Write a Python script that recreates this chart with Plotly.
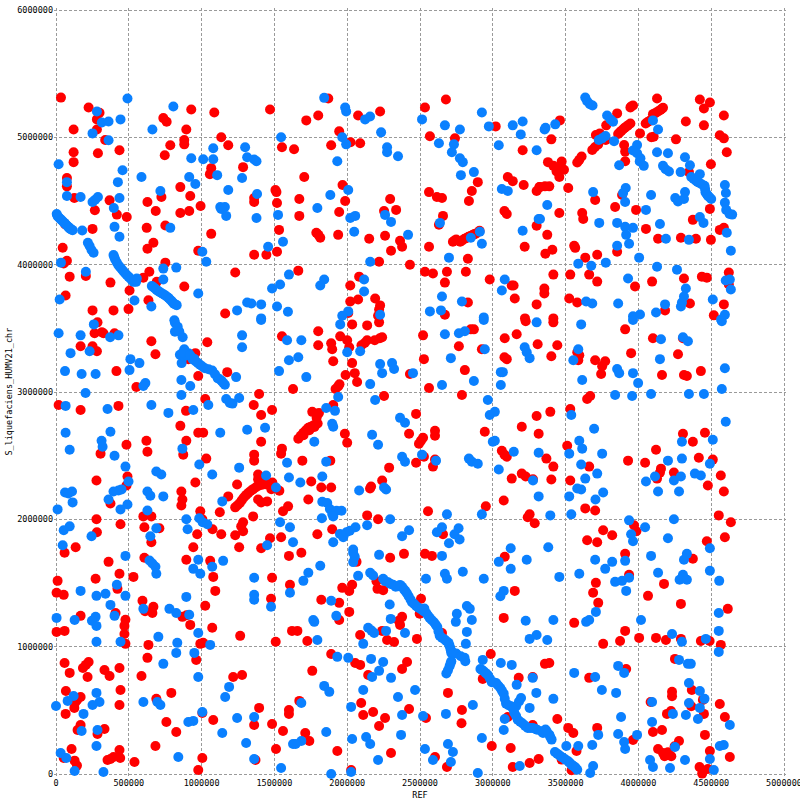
import plotly.graph_objects as go

# Values are (REF, S_liquefaciens_HUMV21_chr) positions in thousands of bases.
red_upper_left = [(34,5312),(224,5234),(299,5193),(281,5141),(121,5062),(281,5062),(338,4979),(121,4883),(288,4875),(436,4898),(121,4805),(75,4680),(75,4615),(126,4523),(267,4427),(368,4505),(418,4393),(486,4375),(64,4315),(251,4281),(46,4133),(75,4031),(53,4010),(94,3906),(205,3911),(374,3859),(66,3758),(251,3641),(395,3641),(498,3651),(505,3797),(635,3721),(641,3945),(600,3898),(692,3865),(881,3828),(751,4016),(628,4125),(669,4172),(977,4109),(623,4289),(751,4307),(1066,4242),(628,4492),(724,4531),(685,4422),(854,4609),(922,4539),(854,4406),(915,4422),(993,4461),(747,4859),(785,4938),(881,4979),(881,4945),(895,5062),(737,5151),(760,5122),(929,5219),(1087,5195),(1470,5219),(1135,5000),(1183,4938),(1552,4922),(1635,4906),(1066,4758),(1057,4711),(1285,4766),(1507,4586),(1514,4570),(1361,4523),(1361,4492),(1518,4484),(1532,4273),(1361,4078),(1445,4078),(1518,4102),(1231,3938),(1162,3617)]
red_upper_mid = [(1870,5305),(1719,5133),(1801,5172),(2075,5172),(2226,5203),(1945,5047),(1890,4938),(2023,4961),(2089,4953),(1705,4688),(1968,4625),(1671,4516),(1986,4500),(2295,4516),(1671,4383),(1945,4414),(2253,4422),(2336,4430),(1788,4250),(1815,4211),(1802,4235),(1938,4234),(2151,4203),(2260,4227),(2363,4188),(2377,4141),(2301,4109),(2219,4023),(2431,4000),(1664,3953),(2082,3906),(2021,3836),(2021,3711),(2075,3727),(2192,3734),(2226,3680),(2219,3648),(2212,3599),(2007,3620),(2534,5234),(2678,5297),(2568,5008),(2740,4992),(3020,5086),(3205,4898),(2562,4570),(2616,4531),(2651,4523),(2836,4500),(2856,4578),(2897,4648),(2658,4383),(2630,4313),(3103,4688),(3137,4656),(3212,4625),(3301,4578),(3320,4609),(3080,4422),(3096,4398),(3301,4305),(2562,4141),(2829,4047),(3219,4141),(2534,3945),(2589,3930),(2685,3945),(2815,3945),(2671,3859),(2979,3883),(3130,3836),(3143,3836),(3151,3734),(3301,3688),(2829,3703),(2671,3607),(3221,3578),(2726,4180),(2749,4198),(2776,4180),(2806,4203),(2833,4219),(2863,4234),(2886,4245),(2909,4266),(2737,4190),(2790,4190),(2820,4210),(2848,4226),(2875,4240)]
red_upper_right = [(4128,5305),(4422,5297),(4491,5273),(4450,5227),(4587,5172),(3854,5188),(3950,5242),(3461,5133),(4326,5125),(4450,5094),(4559,5016),(4587,4992),(4607,4883),(3402,4984),(4258,4984),(4011,5031),(3779,5094),(4498,4789),(4347,4727),(3518,4602),(3703,4508),(3888,4547),(3840,4453),(3984,4430),(3457,4406),(4491,4438),(4374,4352),(4052,4281),(3614,4406),(3621,4359),(3374,4234),(4559,4273),(4587,4289),(4135,4203),(4292,4211),(4395,4203),(4498,4195),(3559,4148),(3566,4132),(3409,4117),(3361,4086),(3635,4055),(3717,4078),(3854,4102),(3416,3922),(3532,3922),(3662,3922),(3717,3867),(3977,3828),(4094,3867),(4313,3891),(4436,3906),(4470,3898),(4621,3938),(4621,3844),(3354,3813),(3354,3773),(3525,3734),(3580,3703),(4354,3695),(4587,3688),(4183,3641),(4518,3602),(3416,3578),(3379,4805),(3416,4776),(3450,4758),(3473,4810),(3489,4745),(3457,4688),(3438,4732),(3610,4849),(3594,4823),(3580,4802),(3683,4901),(3701,4922),(3724,4945),(3708,5018),(3735,5031),(3776,4979),(3861,5026),(3884,5052),(3907,5076),(3929,5094),(3945,5109),(4050,5109),(4078,5130),(4100,5182),(4123,5195),(4151,5214),(4169,5232),(4089,5000),(4105,5005),(3902,4940),(3909,4888),(3909,4812),(3945,5234),(3963,5250),(3324,4609),(3358,4615),(3388,4615),(3872,5039),(3895,5064),(3918,5085),(4064,5120),(4112,5188),(4137,5205),(4160,5223)]
red_centre_left = [(285,3547),(265,3461),(315,3469),(326,3461),(402,3461),(169,3359),(251,3359),(281,3320),(655,3398),(1039,3391),(683,3297),(957,3305),(909,3258),(415,3164),(1176,3156),(977,3125),(1552,3437),(552,3039),(1395,2984),(1628,3023),(18,2898),(169,2859),(429,2891),(1025,2945),(893,2852),(1358,2898),(1409,2820),(1484,2859),(854,2734),(977,2680),(1011,2680),(895,2617),(621,2617),(1409,2609),(484,2586),(628,2531),(306,2516),(874,2508),(1552,2555),(1546,2516),(1032,2477),(1361,2508),(1361,2461),(491,2336),(484,2266),(278,2305),(957,2289),(1244,2273),(861,2219),(868,2156),(861,2109),(374,2125),(1183,2180),(1388,2156),(1409,2133),(1450,2141),(1594,2102),(1559,2063),(991,2063),(1125,2055),(600,2023),(655,2023),(278,2000),(1354,2023),(443,1961),(607,1938),(710,1930),(281,1898),(1005,2000),(1075,1922),(1135,1883),(970,1883),(1231,1875),(1285,1977),(1272,1945),(1285,1906),(1546,1859),(1470,1852),(655,1820),(135,1781),(943,1781),(1258,1781),(1409,1773),(1388,2352),(1231,2094),(1263,2128),(1290,2172),(1320,2206),(1354,2237),(1388,2263),(1422,2273),(1457,2276),(1486,2289),(1388,2315),(1479,2237),(1534,2224),(1247,2110),(1276,2150),(1305,2190),(1337,2222),(1371,2250),(1405,2270),(1440,2275),(1470,2282),(1400,2295),(1430,2290)]
red_centre_mid = [(1801,3477),(1952,3437),(2034,3531),(2137,3523),(2219,3547),(1801,3367),(1890,3383),(1897,3336),(1904,3242),(2000,3406),(2014,3352),(2034,3227),(2052,3148),(1989,3133),(2068,3078),(2098,3367),(2137,3406),(2189,3406),(2240,3430),(2224,3422),(2120,3385),(1938,3044),(1920,3023),(1947,3060),(1904,2898),(2253,2969),(1760,2844),(1806,2836),(1790,2797),(1664,2633),(1699,2680),(1733,2719),(1767,2737),(1797,2753),(1797,2823),(1984,2672),(2000,2602),(1692,2461),(1884,2461),(1753,2297),(1822,2250),(1890,2250),(1733,2156),(2164,2258),(2157,2242),(2240,2305),(2288,2406),(2137,2031),(2212,2000),(1897,1922),(1795,1883),(2425,2672),(2473,2828),(2521,2641),(2507,2618),(2493,2594),(2603,2695),(2603,2656),(2473,2445),(2527,2492),(2603,2469),(2589,2414),(2562,3031),(2788,2977),(2808,3172),(2527,3258),(2431,3141),(2521,3445),(2767,3359),(2925,3336),(2849,3492),(2870,3492),(3082,3422),(3164,3453),(3226,3555),(3308,3375),(3080,3273),(3096,3258),(2945,2688),(3199,2727),(3301,2812),(3315,2672),(3062,2539),(3080,2508),(3096,2492),(3130,2320),(3199,2359),(3226,2336),(3276,2315),(3075,2148),(2952,2102),(2555,2063),(3253,2039),(3240,2016),(3288,1969),(2658,1883),(1681,2656),(1716,2700),(1750,2728),(1782,2745),(1700,2660),(1740,2700),(1775,2725)]
red_centre_right = [(3416,3547),(3909,3492),(4100,3422),(4306,3422),(3443,3367),(3402,3281),(3580,3312),(3594,3289),(3587,3250),(3703,3250),(3772,3242),(3751,3203),(3744,3141),(3950,3305),(4272,3297),(4162,3133),(4313,3133),(4333,3125),(4429,3164),(3669,2969),(3648,2945),(3532,2867),(3395,2844),(3511,2578),(3368,2477),(3416,2414),(3662,2414),(3402,2313),(3532,2305),(3929,2461),(4046,2445),(4121,2547),(4306,2672),(4457,2680),(4374,2609),(4415,2484),(4511,2469),(4155,2398),(4148,2367),(4128,2320),(4244,2367),(4566,2344),(4477,2266),(4587,2219),(3635,2086),(3703,2070),(4552,2031),(4635,1977),(3970,1953),(3986,1906),(3758,1914),(3820,1875),(3648,1836),(3717,1820),(4470,1828),(4594,1859)]
red_lower_left = [(59,1737),(361,1666),(436,1572),(272,1533),(11,1517),(532,1548),(607,1698),(895,1682),(1059,1674),(1080,1548),(1600,1713),(1484,1541),(1607,1486),(422,1454),(4,1423),(53,1407),(1094,1438),(1477,1376),(594,1360),(669,1313),(662,1265),(612,1279),(1025,1321),(409,1265),(169,1242),(477,1211),(470,1163),(470,1100),(868,1234),(897,1247),(922,1171),(1073,1148),(4,1116),(59,1124),(1621,1124),(1265,1085),(1509,1038),(477,1022),(635,1014),(991,1022),(1011,1030),(628,912),(963,896),(59,872),(224,880),(205,857),(185,833),(94,794),(217,762),(436,833),(333,817),(368,770),(587,770),(1217,762),(1278,778),(443,660),(792,637),(68,652),(169,605),(144,579),(126,519),(131,560),(689,590),(436,542),(66,472),(1395,519),(1600,503),(1600,471),(1005,479),(1080,424),(758,409),(1361,385),(1484,393),(1559,338),(826,330),(169,385),(148,346),(285,314),(333,354),(683,220),(107,196),(436,189),(395,134),(354,110),(441,126),(374,118),(53,126),(128,105),(144,66),(539,94),(1005,126),(977,31),(1370,110),(1511,196)]
red_lower_mid = [(1685,1737),(2295,1698),(2390,1729),(2534,1729),(2582,1713),(2064,1666),(3082,1706),(1966,1462),(2034,1486),(2014,1438),(2201,1514),(2208,1454),(2247,1444),(1822,1368),(1945,1344),(2014,1273),(3151,1438),(2507,1376),(2498,1258),(3075,1226),(1945,1210),(2377,1234),(2354,1203),(2363,1171),(1658,1124),(1726,1045),(2089,1092),(2240,1124),(2274,1053),(2322,1037),(2479,1061),(2651,1108),(1890,943),(2986,943),(1760,810),(2055,872),(2089,857),(2411,880),(2377,825),(2144,778),(2931,747),(3178,755),(3274,762),(2692,637),(2096,558),(1671,574),(2425,511),(2110,464),(2178,487),(2260,440),(2541,440),(2788,503),(2219,377),(2785,398),(3103,448),(3274,385),(1712,322),(1740,259),(1932,181),(2301,165),(2993,220),(3123,204),(2603,134),(2685,55),(3137,55),(3253,86),(3315,118),(2027,31)]
red_lower_right = [(3909,1729),(4374,1690),(3936,1564),(3708,1501),(4176,1493),(3689,1423),(4066,1399),(3724,1344),(4292,1336),(4614,1297),(3559,1187),(3909,1124),(3874,1045),(3758,1022),(4005,1069),(4121,1069),(4189,1053),(4292,1061),(4429,1045),(4489,1045),(4566,1014),(3358,865),(3388,872),(4251,904),(3916,825),(3662,755),(4367,660),(4231,645),(4231,610),(4443,582),(4084,566),(4363,532),(4559,550),(4224,495),(4196,472),(4450,472),(4594,448),(3443,432),(3518,362),(3553,322),(3717,362),(4100,330),(4162,346),(4457,307),(3963,267),(4279,259),(4249,217),(3575,181),(4491,181),(4628,134),(4135,196),(4169,165),(4226,139),(4180,139),(4203,170),(3473,113),(3541,29),(4420,55),(4443,21),(4477,39),(4438,3)]

blue_upper_left = [(491,5305),(806,5242),(281,5203),(315,5117),(361,5125),(443,5141),(251,5031),(361,4977),(662,5062),(18,4789),(457,4742),(425,4648),(587,4688),(75,4648),(75,4539),(169,4531),(251,4492),(288,4531),(269,4510),(436,4523),(397,4445),(717,4578),(915,4688),(957,4633),(929,4836),(1011,4828),(1080,4828),(1080,4914),(1299,4922),(1313,4844),(1361,4826),(1377,4812),(1107,4703),(1278,4680),(1183,4586),(1381,4555),(1128,4453),(1160,4453),(1135,4438),(1169,4383),(1377,4367),(1525,4391),(1457,4141),(1559,4180),(1546,5000),(785,4289),(402,4297),(436,4219),(180,4268),(1005,4102),(1032,4023),(34,4016),(205,3945),(737,3969),(826,3977),(737,3883),(977,3773),(539,3719),(655,3672),(25,3727),(1484,3813),(1539,3844),(1600,3922),(1313,3703),(1342,3695),(1409,3688),(1518,3672),(1593,3630),(1244,3641),(1409,3578),(813,3563),(5,4398),(11,4380),(30,4359),(48,4339),(66,4318),(84,4297),(98,4281),(114,4271),(219,4172),(231,4146),(244,4115),(258,4094),(395,4076),(406,4042),(429,3995),(452,3964),(475,3932),(498,3906),(520,3880),(532,3865),(555,3891),(550,3865),(658,3833),(680,3813),(703,3792),(726,3776),(749,3760),(772,3740),(794,3714),(810,3693),(829,3682),(400,4060),(417,4018),(440,3980),(463,3948),(486,3919),(509,3893),(540,3875),(669,3823),(691,3802),(714,3784),(737,3768),(760,3750),(783,3727),(802,3703),(820,3688),(20,4370),(39,4349),(57,4328),(75,4307),(91,4289),(106,4276)]
blue_upper_mid = [(1842,5310),(1986,5234),(1993,5203),(2123,5141),(2157,5164),(2233,5039),(1966,5000),(1993,4945),(1932,4812),(2274,4922),(2274,4883),(2349,4852),(2007,4586),(1884,4547),(1795,4445),(2021,4367),(2055,4383),(2260,4391),(2301,4336),(2048,4258),(2418,4234),(2158,4023),(1842,3883),(1815,3836),(2116,3883),(2116,3789),(2007,3633),(1966,3599),(2226,3607),(2514,5141),(2671,5094),(2774,5062),(2925,5195),(2973,5086),(3137,5094),(3205,5125),(3192,5023),(3041,4938),(3301,4898),(2630,4953),(2733,4945),(2719,4883),(2774,4836),(2794,4805),(2870,4727),(2781,4703),(3062,4594),(3103,4578),(2637,4328),(3315,4359),(3205,4266),(2849,4211),(2911,4258),(2925,4164),(2699,4055),(3082,3883),(3062,3797),(2651,3750),(2788,3711),(2568,3633),(2644,3641),(2938,3586)]
blue_upper_right = [(3635,5312),(3648,5284),(3667,5260),(3685,5250),(3429,5102),(3356,5062),(3362,5075),(3785,5172),(3808,5141),(3826,5122),(4100,5133),(4135,5062),(3774,5010),(3728,4979),(3751,4992),(3833,4969),(3991,4940),(3963,4896),(3991,4875),(4014,4836),(4009,4810),(4037,4776),(3868,4781),(4128,4883),(4203,4875),(4320,4844),(4354,4781),(4169,4776),(4187,4750),(4210,4732),(4290,4727),(4422,4711),(4363,4688),(4393,4661),(4420,4641),(4454,4620),(4461,4568),(4477,4542),(4500,4516),(4594,4625),(4601,4563),(4594,4487),(4603,4430),(4626,4398),(4644,4393),(3689,4570),(3913,4602),(3895,4563),(3909,4492),(4087,4547),(4052,4430),(4320,4570),(4253,4523),(4272,4497),(4313,4516),(3374,4469),(3324,4359),(3731,4328),(3854,4328),(3909,4297),(3963,4289),(3916,4234),(4148,4320),(4422,4375),(4447,4328),(4189,4203),(4347,4195),(4607,4250),(3854,4148),(3936,4164),(4005,4055),(4635,4109),(3587,4008),(3676,3992),(3776,4016),(4128,3984),(4265,3961),(3929,3891),(4600,3875),(4628,3883),(4635,3805),(4326,3813),(3641,3711),(3683,3695),(3861,3695),(4511,3727),(4183,3688),(4313,3750),(4299,3703),(4292,3672),(4121,3625),(3963,3594),(4011,3609),(4594,3607),(4568,3570),(4378,4675),(4406,4650),(4437,4630),(4458,4595),(4469,4555),(4488,4530)]
blue_centre_left = [(260,3531),(18,3461),(169,3445),(372,3430),(429,3445),(100,3305),(231,3320),(511,3258),(573,3227),(505,3172),(62,3164),(176,3141),(272,3141),(614,3070),(600,3047),(1278,3445),(1278,3352),(1587,3406),(1600,3250),(1532,3164),(1237,3117),(861,3094),(922,3047),(861,2977),(203,2992),(66,2891),(354,2867),(655,2898),(772,2836),(943,2859),(1046,2898),(1169,2945),(1194,2914),(1212,2909),(1258,2953),(1128,2680),(1313,2703),(1436,2719),(66,2680),(374,2688),(313,2617),(320,2570),(94,2547),(402,2500),(868,2555),(984,2430),(1073,2352),(1258,2406),(1587,2445),(1600,2328),(1443,2344),(477,2414),(689,2375),(723,2352),(498,2297),(429,2227),(395,2219),(450,2235),(628,2219),(648,2185),(737,2180),(62,2211),(85,2203),(110,2219),(114,2133),(361,2156),(491,2117),(443,2078),(11,2078),(628,2070),(1142,2141),(1511,2250),(895,2000),(984,2008),(1007,1977),(1039,1961),(904,1922),(1539,1977),(1607,1938),(94,1945),(53,1914),(244,1867),(689,1930),(648,1867),(46,1797),(1628,1820),(1450,1797),(1409,3565),(817,3544),(836,3513),(847,3474),(817,3474),(870,3430),(851,3292),(881,3336),(863,3227),(879,3279),(909,3305),(931,3273),(961,3240),(989,3214),(1023,3187),(1073,3169),(1110,3109),(1137,3089),(1160,3057),(940,3255),(975,3227),(1005,3200),(1048,3178),(1092,3140),(1123,3100),(1148,3073),(895,3290),(870,3310),(920,3290),(950,3260)]
blue_centre_mid = [(1952,3531),(1685,3406),(1664,3273),(1719,3117),(2000,3312),(2089,3320),(2226,3219),(2308,3227),(2322,3180),(2240,3148),(2452,3148),(2158,3062),(1938,2961),(2192,2937),(1856,2875),(1916,2852),(1897,2750),(1904,2727),(1774,2609),(1856,2453),(2171,2664),(2212,2586),(2363,2797),(2397,2758),(2377,2492),(2397,2453),(2514,2508),(2610,2461),(1829,2336),(1678,2289),(2082,2227),(2267,2234),(2253,2250),(2671,3453),(2767,3461),(2808,3477),(2938,3565),(2945,3336),(2712,3266),(3219,3352),(3233,3312),(3253,3266),(3301,3547),(2870,3086),(2651,3055),(3055,3156),(3069,3156),(3055,3055),(2966,2937),(3014,2844),(2979,2820),(3014,2617),(3000,2609),(3144,2531),(3315,2523),(2836,2477),(2856,2453),(2897,2437),(3041,2391),(3276,2305),(3315,2180),(2685,2039),(2925,2039),(2295,2000),(1826,2008),(2137,1953),(2425,1914),(2377,1867),(2651,1938),(2616,1898),(2765,1930),(2737,1883),(2772,1841),(2699,1812),(1904,1820),(2041,1763),(3123,1773),(1829,2138),(1863,2128),(1881,2081),(1897,2042),(1927,2068),(1961,2068),(1904,2023),(1950,1885),(1973,1860),(1995,1898),(2018,1911),(2057,1938)]
blue_centre_right = [(3607,3531),(3963,3565),(4155,3414),(4306,3430),(4340,3398),(4573,3555),(3587,3336),(3553,3250),(4148,3258),(3854,3180),(3868,3148),(3963,3148),(4594,3187),(3614,3094),(3998,3070),(3840,2977),(3957,2969),(4087,2984),(4347,2984),(4450,2984),(4573,3023),(3539,2820),(4600,2766),(3696,2711),(3594,2617),(3614,2555),(3525,2516),(3751,2516),(3607,2430),(3717,2359),(3635,2320),(4299,2609),(4511,2625),(4203,2461),(4299,2477),(4491,2437),(4114,2336),(4052,2297),(4244,2305),(4292,2336),(4388,2359),(4429,2344),(4135,2219),(4279,2219),(3580,2242),(3607,2234),(3758,2211),(3525,2180),(3705,2156),(3395,2031),(3539,2039),(3936,1992),(4244,2000),(4046,1938),(3950,1883),(3963,1828),(4203,1852),(3381,1781),(4491,1773)]
blue_lower_left = [(477,1713),(642,1677),(662,1653),(683,1627),(689,1572),(977,1682),(943,1611),(991,1572),(1073,1627),(1148,1674),(1361,1541),(418,1486),(169,1438),(278,1399),(340,1415),(477,1399),(895,1391),(1361,1407),(1361,1368),(1607,1423),(1477,1313),(374,1328),(600,1297),(779,1297),(826,1265),(915,1250),(402,1242),(4,1226),(128,1210),(272,1234),(247,1203),(278,1163),(977,1108),(703,1077),(278,1038),(443,1038),(833,1030),(1059,1014),(826,951),(950,951),(737,865),(977,762),(1189,684),(1162,605),(278,637),(121,613),(80,574),(299,566),(251,542),(0,534),(600,566),(696,566),(717,542),(189,472),(1005,487),(909,409),(943,417),(1244,440),(1361,448),(1142,322),(176,338),(285,346),(1306,244),(278,220),(1628,236),(32,165),(71,126),(840,134),(1361,118),(1546,47),(128,24),(326,16)]
blue_lower_mid = [(2041,1737),(2052,1705),(2041,1664),(2219,1721),(2651,1713),(1815,1635),(1733,1580),(1699,1517),(2075,1556),(2158,1580),(2178,1559),(2541,1533),(2671,1572),(2685,1533),(2794,1588),(2938,1533),(3233,1682),(3041,1666),(3123,1611),(3075,1438),(3052,1396),(1890,1360),(2292,1331),(1925,1242),(1767,1210),(1774,1195),(2299,1218),(2753,1258),(2746,1195),(2856,1210),(2822,1320),(2842,1297),(3226,1203),(2144,1148),(2167,1126),(2185,1108),(2267,1124),(2397,1108),(2822,1116),(1795,1053),(2110,1022),(2815,1022),(3253,1061),(3301,1092),(1932,920),(2007,912),(2164,904),(2247,880),(2931,896),(3055,872),(3130,857),(2219,810),(2171,762),(2301,755),(3274,755),(3164,700),(1842,692),(1877,645),(2110,660),(2466,660),(2349,605),(3299,637),(2027,527),(2377,464),(2521,456),(2678,472),(2863,542),(3253,519),(1685,558),(1856,330),(3075,346),(2034,275),(2130,291),(2158,236),(2370,307),(2925,283),(1685,259),(1646,236),(2534,196),(2692,236),(2726,173),(2212,110),(2589,110),(2712,94),(3185,63),(2897,8),(2027,16),(1890,0),(2247,1533),(2281,1506),(2315,1486),(2349,1475),(2377,1470),(2400,1436),(2422,1396),(2445,1349),(2475,1318),(2509,1292),(2543,1265),(2566,1226),(2596,1192),(2619,1155),(2635,1087),(2669,1056),(2696,1030),(2708,990),(2715,951),(2749,946),(2806,912),(2811,886),(2715,886),(2703,846),(2681,789),(2915,825),(2938,807),(2966,778),(2993,720),(3023,715),(3052,676),(3075,631),(3091,553),(3125,532),(3194,597),(3160,532),(3148,479),(3171,427),(3205,396),(3240,362),(3274,362),(3304,348),(3082,432),(2260,1515),(2295,1495),(2333,1470),(2363,1485),(2390,1450),(2410,1420),(2435,1370),(2460,1335),(2490,1305),(2525,1278),(2530,1300),(2555,1245),(2580,1210),(2608,1172),(2627,1120),(2650,1070),(2680,1045),(2702,1010),(2712,970),(2730,950),(2780,925),(2710,870),(2692,815),(2926,816),(2952,792),(2980,750),(3008,718),(3037,695),(3063,653),(3082,590),(3108,540),(3143,505),(3160,455),(3188,410),(3222,378),(3257,362),(3290,355),(3180,570)]
blue_lower_right = [(3703,1682),(3820,1666),(3909,1674),(4087,1713),(4333,1729),(4313,1682),(4491,1596),(3772,1611),(3457,1548),(3594,1572),(4135,1580),(4306,1564),(4283,1525),(4333,1525),(4555,1517),(3840,1509),(3888,1517),(3936,1541),(3916,1438),(3708,1273),(4552,1265),(3416,1210),(3662,1210),(3641,1195),(4018,1210),(4552,1124),(3374,1053),(4231,1100),(4299,1038),(4463,1061),(4552,959),(4279,896),(4340,865),(4360,865),(3861,849),(3559,794),(3902,794),(3703,762),(4347,715),(4422,652),(3749,660),(3847,637),(3416,590),(4454,590),(4094,566),(4347,558),(4422,519),(4237,472),(4326,464),(4409,432),(4628,385),(3881,448),(4094,409),(3861,314),(3724,307),(3991,307),(3902,251),(3909,196),(3505,220),(3587,220),(3683,228),(4251,212),(4559,220),(4586,228),(4080,110),(4100,55),(4320,110),(4491,118),(4217,47),(3689,63),(3669,8),(4518,31),(3336,335),(3370,335),(3388,309),(3404,270),(3427,173),(3457,147),(3484,126),(3518,100),(3541,73),(3564,55),(3580,34),(3442,160),(3470,136),(3500,113),(3530,86),(3552,64),(3572,45),(3353,335),(3345,322),(3395,290),(3362,350)]

red_groups = [red_upper_left, red_upper_mid, red_upper_right, red_centre_left, red_centre_mid,
              red_centre_right, red_lower_left, red_lower_mid, red_lower_right]
blue_groups = [blue_upper_left, blue_upper_mid, blue_upper_right, blue_centre_left, blue_centre_mid,
               blue_centre_right, blue_lower_left, blue_lower_mid, blue_lower_right]

KB = 1000
red_points = [p for g in red_groups for p in g]
blue_points = [p for g in blue_groups for p in g]

FONT = "DejaVu Sans Mono"
fig = go.Figure()
for pts, colour in ((red_points, "#ff0000"), (blue_points, "#0a80ff")):
    fig.add_trace(go.Scatter(
        x=[p[0] * KB for p in pts], y=[p[1] * KB for p in pts], mode="markers",
        marker=dict(size=10, color=colour, line=dict(width=0)),
        cliponaxis=False, showlegend=False, hoverinfo="skip"))

axis_style = dict(
    showgrid=True, gridcolor="#9a9a9a", griddash="3px,2px", gridwidth=1,
    zeroline=False, showline=False, ticks="", tickformat="d", automargin=False,
    ticklabeloverflow="allow",
    tickfont=dict(family=FONT, size=8.5, color="black"))

fig.update_layout(
    width=800, height=800, margin=dict(l=53.5, r=13.5, t=8, b=24, autoexpand=False),
    paper_bgcolor="white", plot_bgcolor="white",
    font=dict(family=FONT, size=8.5, color="black"),
    xaxis=dict(range=[-13717, 5013717],
               tickvals=[0, 500000, 1000000, 1500000, 2000000, 2500000, 3000000, 3500000, 4000000, 4500000, 5000000],
               title=dict(text="REF", font=dict(family=FONT, size=8.5)), **axis_style),
    yaxis=dict(range=[-15700, 6015700], tickvals=[0, 1000000, 2000000, 3000000, 4000000, 5000000, 6000000],
               **axis_style),
    annotations=[dict(text="S_liquefaciens_HUMV21_chr", xref="paper", yref="paper", x=-0.062, y=0.5,
                      xanchor="center", yanchor="middle", textangle=-90, showarrow=False,
                      font=dict(family=FONT, size=8.5, color="black"))],
)
fig.write_html("out.html", post_script="document.body.style.margin='0';",
               config=dict(displayModeBar=False))
